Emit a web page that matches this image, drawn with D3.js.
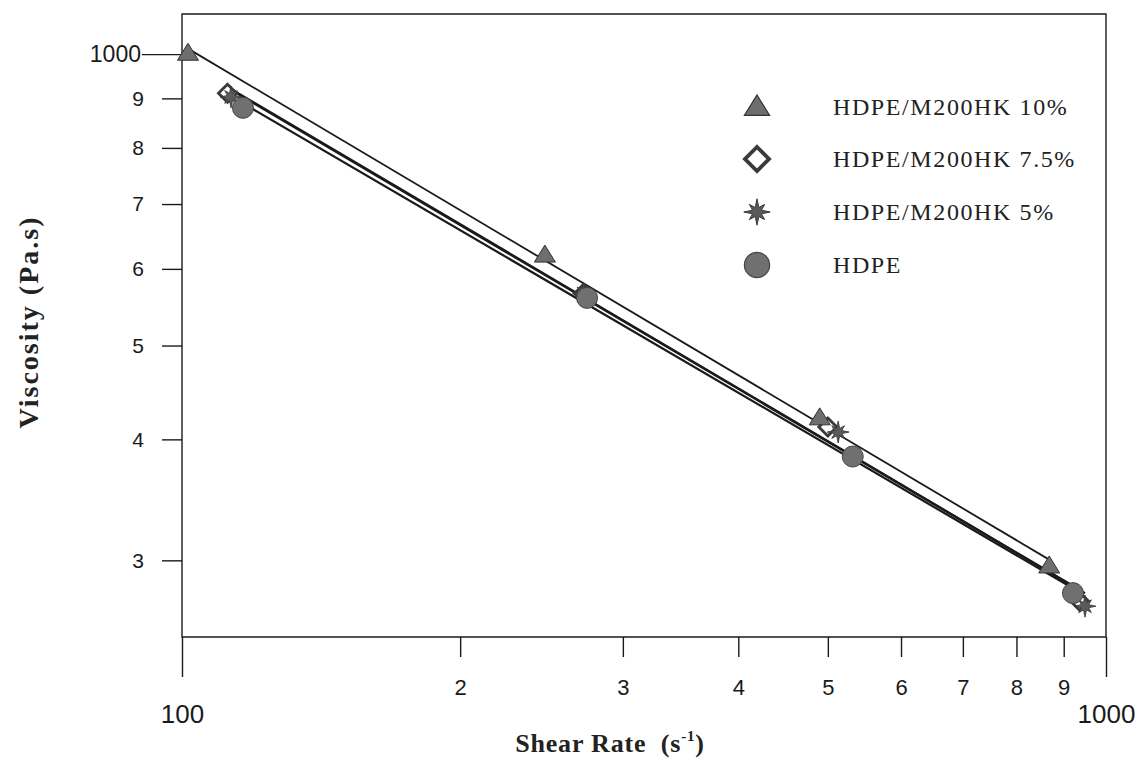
<!DOCTYPE html>
<html><head><meta charset="utf-8">
<script src="https://cdn.jsdelivr.net/npm/d3@7"></script>
<style>body{margin:0;background:#fff}svg{display:block}</style>
</head><body>
<script>
// ---- data ----
const seriesNames = ["HDPE/M200HK 10%", "HDPE/M200HK 7.5%", "HDPE/M200HK 5%", "HDPE"];
const shearRate10 = [101.5, 247, 490, 868];
const visc10      = [1002, 620, 421, 296];
const shearRate75 = [112, 272, 500, 937];
const visc75      = [911, 566, 412, 272];
const shearRate5  = [113, 272, 513, 949];
const visc5       = [903, 566, 407, 269];
const shearRateH  = [116.4, 274.4, 532, 921];
const viscH       = [880, 560, 384, 277.5];
const xMinorTicks = [200, 300, 400, 500, 600, 700, 800, 900];
const xMinorLabels = ["2","3","4","5","6","7","8","9"];
const xMajorTicks = [100, 1000];
const yMinorTicks = [300, 400, 500, 600, 700, 800, 900];
const yMinorLabels = ["3","4","5","6","7","8","9"];
const yMajorTicks = [1000];

const W = 1146, H = 772;
const L = 182, R = 1106, T = 14, B = 637;
const svg = d3.select("body").append("svg").attr("width", W).attr("height", H);

const x = d3.scaleLog().domain([100, 1000]).range([L, R]);
const y = d3.scaleLog().domain([250, 1100]).range([B, T]);

const ink = "#1a1a1a";
const sans = "Liberation Sans, Arial, sans-serif";
const serif = "Liberation Serif, Times New Roman, serif";
// frame
svg.append("path").attr("d", `M${L},${T}H${R}V${B}H${L}Z`).attr("fill","none").attr("stroke",ink).attr("stroke-width",1.4);

// x axis ticks
const gx = svg.append("g").attr("transform", `translate(0,${B})`);
gx.call(d3.axisBottom(x).tickValues(xMinorTicks).tickSize(20).tickFormat((d,i)=>xMinorLabels[i]).tickPadding(22))
  .call(g=>g.select(".domain").remove());
gx.selectAll("line").attr("stroke", ink).attr("stroke-width",1.4);
gx.selectAll("text").attr("font-family",sans).attr("font-size",22).attr("fill",ink);
const gx2 = svg.append("g").attr("transform", `translate(0,${B})`);
gx2.call(d3.axisBottom(x).tickValues(xMajorTicks).tickSize(40).tickFormat(d3.format("d")).tickPadding(28))
  .call(g=>g.select(".domain").remove());
gx2.selectAll("line").attr("stroke", ink).attr("stroke-width",1.4);
gx2.selectAll("text").attr("font-family",sans).attr("font-size",26).attr("fill",ink);

// y axis ticks
const gy = svg.append("g").attr("transform", `translate(${L},0)`);
gy.call(d3.axisLeft(y).tickValues(yMinorTicks).tickSize(20).tickFormat((d,i)=>yMinorLabels[i]).tickPadding(18))
  .call(g=>g.select(".domain").remove());
gy.selectAll("line").attr("stroke", ink).attr("stroke-width",1.4);
gy.selectAll("text").attr("font-family",sans).attr("font-size",21).attr("fill",ink);
const gy2 = svg.append("g").attr("transform", `translate(${L},0)`);
gy2.call(d3.axisLeft(y).tickValues(yMajorTicks).tickSize(40).tickFormat(d3.format("d")).tickPadding(1))
  .call(g=>g.select(".domain").remove());
gy2.selectAll("line").attr("stroke", ink).attr("stroke-width",1.4);
gy2.selectAll("text").attr("font-family",sans).attr("font-size",23).attr("fill",ink);

// axis titles
svg.append("text").attr("x", 610).attr("y", 752).attr("text-anchor","middle")
  .attr("font-family",serif).attr("font-weight","bold").attr("font-size",26).attr("fill","#222")
  .attr("letter-spacing",0.8)
  .html('Shear Rate&#160;&#160;(s<tspan dy="-11" font-size="15">-1</tspan><tspan dy="11">)</tspan>');
svg.append("text").attr("transform","translate(38,322) rotate(-90)").attr("text-anchor","middle")
  .attr("font-family",serif).attr("font-weight","bold").attr("font-size",28).attr("fill","#222")
  .attr("letter-spacing",2)
  .text("Viscosity (Pa.s)");

// series
const series = [
  {name: seriesNames[0], xs: shearRate10, ys: visc10, sym: "tri"},
  {name: seriesNames[1], xs: shearRate75, ys: visc75, sym: "dia"},
  {name: seriesNames[2], xs: shearRate5,  ys: visc5,  sym: "star"},
  {name: seriesNames[3], xs: shearRateH,  ys: viscH,  sym: "circ"}
];

// power-law fit lines
function fit(xs, ys){
  const lx = xs.map(Math.log10), ly = ys.map(Math.log10);
  const mx = d3.mean(lx), my = d3.mean(ly);
  const b = d3.sum(lx.map((v,i)=>(v-mx)*(ly[i]-my))) / d3.sum(lx.map(v=>(v-mx)**2));
  const a = my - b*mx;
  return v => Math.pow(10, a + b*Math.log10(v));
}
const lineG = svg.append("g");
series.forEach((s, k) => {
  const f = fit(s.xs, s.ys);
  const x0 = d3.min(s.xs), x1 = d3.max(s.xs);
  lineG.append("line").attr("x1", x(x0)).attr("y1", y(f(x0))).attr("x2", x(x1)).attr("y2", y(f(x1)))
    .attr("stroke", ink).attr("stroke-width", k===0 ? 1.8 : 2.2);
});

function drawSym(g, sym, cx, cy, sc){
  const t = `translate(${cx},${cy}) scale(${sc})`;
  if (sym === "tri") {
    g.append("path").attr("d", "M0,-10L10.5,7L-10.5,7Z").attr("transform",t)
      .attr("fill","#6e6e6e").attr("stroke","#333").attr("stroke-width",1);
  } else if (sym === "dia") {
    g.append("path").attr("d", "M0,-10L10,0L0,10L-10,0Z").attr("transform",t)
      .attr("fill","#fff").attr("stroke","#3a3a3a").attr("stroke-width",3.2);
  } else if (sym === "star") {
    const pts = [];
    for (let i=0;i<16;i++){ const r = i%2===0 ? (i%4===0?11:9) : 4; const a = i*Math.PI/8 - Math.PI/2; pts.push([r*Math.cos(a), r*Math.sin(a)]); }
    g.append("path").attr("d", d3.line()(pts)+"Z").attr("transform",t)
      .attr("fill","#5a5a5a").attr("stroke","#333").attr("stroke-width",0.8);
  } else {
    g.append("circle").attr("r",10.5).attr("transform",t)
      .attr("fill","#707070").attr("stroke","#444").attr("stroke-width",1);
  }
}
const markG = svg.append("g");
[1,2,3,0].forEach(k => {
  const s = series[k];
  s.xs.forEach((v,i)=> drawSym(markG, s.sym, x(v), y(s.ys[i]), s.sym==="dia" ? 0.9 : 1));
});

// legend
const legendY = [107, 159, 212, 265];
const lg = svg.append("g");
series.forEach((s,i)=>{
  drawSym(lg, s.sym, 757, legendY[i], 1.2);
  lg.append("text").attr("x", 833).attr("y", legendY[i]+8)
    .attr("font-family",serif).attr("font-size",24).attr("letter-spacing",1.6).attr("fill","#222")
    .text(s.name);
});
</script>
</body></html>
